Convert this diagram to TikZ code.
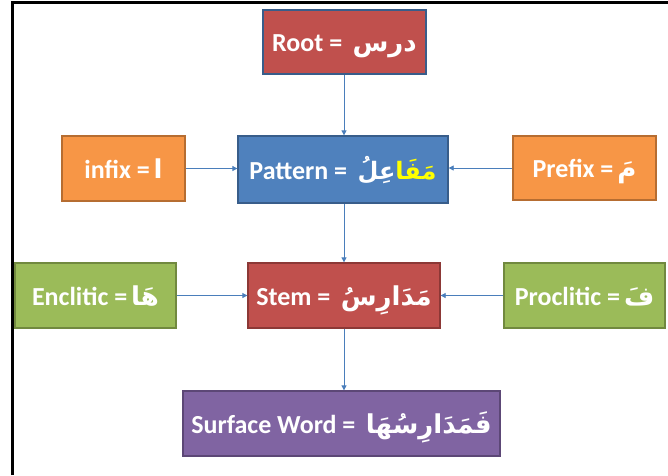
\documentclass[tikz,border=0pt]{standalone}
\usepackage{fontspec}
\setmainfont{Carlito}
\newfontfamily\arabicfont[Script=Arabic]{DejaVu Sans}
\TeXXeTstate=1
\usetikzlibrary{arrows.meta}
\definecolor{accred}{HTML}{C0504D}
\definecolor{accredb}{HTML}{8C3836}
\definecolor{accblue}{HTML}{4F81BD}
\definecolor{accblueb}{HTML}{385D8A}
\definecolor{accorange}{HTML}{F79646}
\definecolor{accorangeb}{HTML}{B66D31}
\definecolor{accgreen}{HTML}{9BBB59}
\definecolor{accgreenb}{HTML}{71893F}
\definecolor{accpurple}{HTML}{8064A2}
\definecolor{accpurpleb}{HTML}{5C4776}
\definecolor{linkblue}{HTML}{4A7EBB}
\definecolor{hlyellow}{HTML}{FFFF00}
\newcommand{\artxt}[2][26]{{\arabicfont\fontsize{#1}{#1}\selectfont\beginR #2\endR}}
\tikzset{
  box/.style={rectangle, draw, line width=1.3pt, text=white, font=\bfseries\fontsize{26}{30}\selectfont, inner sep=0pt, anchor=center, text height=19pt, text depth=0pt},
  link/.style={draw=linkblue, line width=0.8pt, -{Triangle[length=5pt,width=5pt]}}
}
\begin{document}
\begin{tikzpicture}[x=1pt,y=-1pt]
\useasboundingbox (0,0) rectangle (668,475);
\fill[white] (0,0) rectangle (668,475);
\draw[line width=2.2pt] (12.5,475) -- (12.5,2.5) -- (668,2.5);
\node[box, fill=accred, draw=accblueb, minimum width=163pt, minimum height=64pt] (root) at (344.5,42) {Root =\hspace{0.4em}\artxt{درس}};
\node[box, fill=accblue, draw=accblueb, minimum width=210pt, minimum height=67pt] (pattern) at (343,169.5) {Pattern =\hspace{0.4em}\artxt[24]{عِلُ}{\color{hlyellow}\artxt[24]{مَفَا}}};
\node[box, fill=accorange, draw=accorangeb, minimum width=123pt, minimum height=65pt] (infix) at (123.5,168.5) {infix =\hspace{0.15em}\artxt{ا}};
\node[box, fill=accorange, draw=accorangeb, minimum width=143pt, minimum height=64pt] (prefix) at (584.5,168) {Prefix =\hspace{0.15em}\artxt{مَ}};
\node[box, fill=accred, draw=accredb, minimum width=192pt, minimum height=65pt] (stem) at (344,295.5) {Stem =\hspace{0.4em}\artxt{مَدَارِسُ}};
\node[box, fill=accgreen, draw=accgreenb, minimum width=161pt, minimum height=65pt] (enclitic) at (95.5,295.5) {Enclitic =\hspace{0.15em}\artxt{هَا}};
\node[box, fill=accgreen, draw=accgreenb, minimum width=161pt, minimum height=65pt] (proclitic) at (584.5,295.5) {Proclitic =\hspace{0.15em}\artxt{فَ}};
\node[box, fill=accpurple, draw=accpurpleb, minimum width=317pt, minimum height=65pt] (surface) at (341.5,423.5) {Surface Word =\hspace{0.4em}\artxt{فَمَدَارِسُهَا}};
\draw[link] (root.south -| stem.north) -- (pattern.north -| stem.north);
\draw[link] (pattern.south -| stem.north) -- (stem.north);
\draw[link] (infix.east) -- (infix.east -| pattern.west);
\draw[link] (prefix.west) -- (prefix.west -| pattern.east);
\draw[link] (enclitic.east) -- (stem.west);
\draw[link] (proclitic.west) -- (stem.east);
\draw[link] (stem.south) -- (surface.north -| stem.south);
\end{tikzpicture}
\end{document}
